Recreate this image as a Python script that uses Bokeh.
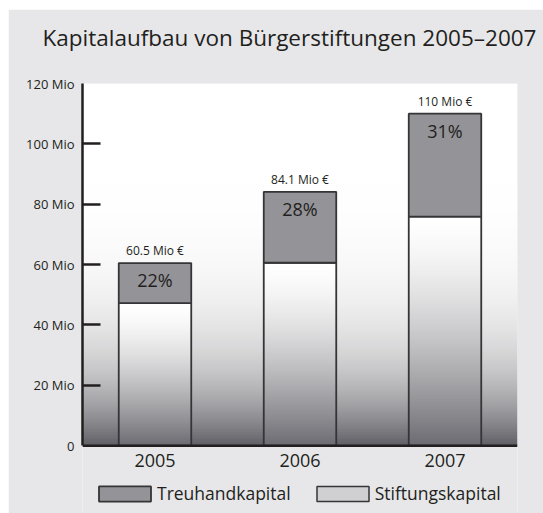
import numpy as np
from bokeh.plotting import figure
from bokeh.models import FixedTicker, Legend, LegendItem, Range1d, Span, Title
from bokeh.core.properties import value
from bokeh.embed import file_html
from bokeh.resources import INLINE

# ---- data ----
years = ["2005", "2006", "2007"]
total = [60.5, 84.1, 110.0]              # Mio €
stiftungskapital = [47.2, 60.6, 75.9]    # Mio €
treuhand_pct = [22, 28, 31]              # % Treuhandkapital
total_labels = ["60.5 Mio €", "84.1 Mio €", "110 Mio €"]
y_ticks = [0, 20, 40, 60, 80, 100, 120]
y_tick_labels = ["0", "20 Mio", "40 Mio", "60 Mio", "80 Mio", "100 Mio", "120 Mio"]
title_text = "Kapitalaufbau von Bürgerstiftungen 2005–2007"

FONT = "Open Sans"
TXT = "#231f20"
PANEL = "#e7e7e9"
TREU = "#939398"
EDGE = "#353537"

xs = [i + 0.5 for i in range(len(years))]
bar_w = 0.5

# frame: value axis 0..120 occupies 363 px, 68 px more below it hold labels+legend
y_lo = -(68.0 / 363.0) * y_ticks[-1]


def vgrad(n, top, bottom, gamma):
    t = np.linspace(0.0, 1.0, n)          # row 0 = bottom
    s = (1.0 - t) ** gamma
    img = np.empty((n, 1), dtype=np.uint32)
    v = img.view(dtype=np.uint8).reshape((n, 1, 4))
    for k in range(3):
        v[:, 0, k] = np.round(top[k] - (top[k] - bottom[k]) * s).astype(np.uint8)
    v[:, 0, 3] = 255
    return img


bg_img = vgrad(256, (255, 255, 255), (96, 96, 102), 4.5)
bar_img = vgrad(256, (255, 255, 255), (108, 108, 114), 1.5)

p = figure(width=535, height=504, margin=(9, 0, 0, 8),
           x_range=Range1d(0, len(years)), y_range=Range1d(y_lo, y_ticks[-1]),
           output_backend="svg", toolbar_location=None, x_axis_location=None,
           min_border_left=74, min_border_right=26,
           min_border_top=73, min_border_bottom=0,
           title=None)
p.border_fill_color = PANEL
p.background_fill_color = PANEL
p.outline_line_color = None
p.grid.visible = False

# spacer (same colour as the panel) between frame and title
p.add_layout(Title(text=".", text_font_size="1px", text_color=PANEL, standoff=13.5), "above")
p.add_layout(Title(text=title_text, text_font=FONT, text_font_size="22.5px",
                   text_font_style="normal", text_color=TXT, align="left",
                   vertical_align="top", offset=-40, standoff=24), "above")

# plot-area gradient background
p.image_rgba(image=[bg_img], x=0, y=y_ticks[0], dw=len(years), dh=y_ticks[-1] - y_ticks[0])

# gradient fill of Stiftungskapital part
p.image_rgba(image=[bar_img] * len(years), x=[x - bar_w / 2 for x in xs],
             y=[0] * len(years), dw=[bar_w] * len(years), dh=stiftungskapital)
p.vbar(x=xs, bottom=0, top=stiftungskapital, width=bar_w,
       fill_alpha=0, line_color=EDGE, line_width=1.8)
r_treu = p.vbar(x=xs, bottom=stiftungskapital, top=total, width=bar_w,
                fill_color=TREU, line_color=EDGE, line_width=1.8)
r_stift_leg = p.vbar(x=[xs[0]], top=[float("nan")], width=bar_w, fill_color="#d0d0d3",
                     line_color=EDGE, line_width=1.5)

# baseline (category axis line)
p.add_layout(Span(location=0, dimension="width", line_color=TXT, line_width=2.5))

# labels
p.text(x=xs, y=total, text=total_labels, y_offset=-4,
       text_align="center", text_baseline="bottom",
       text_font=value(FONT), text_font_size="12px", text_color=TXT)
p.text(x=xs, y=total, text=[f"{v}%" for v in treuhand_pct], y_offset=5,
       text_align="center", text_baseline="top",
       text_font=value(FONT), text_font_size="18px", text_color=TXT)
p.text(x=xs, y=[0] * len(years), text=years, y_offset=8,
       text_align="center", text_baseline="top",
       text_font=value(FONT), text_font_size="18px", text_color=TXT)

# value axis
ya = p.yaxis[0]
ya.bounds = (y_ticks[0], y_ticks[-1])
ya.ticker = FixedTicker(ticks=y_ticks, minor_ticks=y_ticks[1:-1])
ya.major_label_overrides = {t: l for t, l in zip(y_ticks, y_tick_labels)}
ya.major_tick_line_color = None
ya.major_tick_in = 0
ya.major_tick_out = 0
ya.minor_tick_in = 18
ya.minor_tick_out = 0
ya.minor_tick_line_width = 2.5
ya.minor_tick_line_color = TXT
ya.axis_line_width = 2.5
ya.axis_line_color = TXT
ya.major_label_text_font = FONT
ya.major_label_text_font_size = "13px"
ya.major_label_text_color = TXT
ya.major_label_standoff = 8

legend = Legend(items=[LegendItem(label="Treuhandkapital", renderers=[r_treu]),
                       LegendItem(label="Stiftungskapital", renderers=[r_stift_leg])],
                orientation="horizontal", location=(10, 8))
legend.background_fill_alpha = 0
legend.border_line_color = None
legend.glyph_width = 65
legend.glyph_height = 19
legend.label_standoff = 0
legend.spacing = 19
legend.padding = 4
legend.label_text_font = FONT
legend.label_text_font_size = "17.5px"
legend.label_text_color = TXT
p.add_layout(legend, "center")

open("out.html", "w").write(file_html(p, INLINE))
